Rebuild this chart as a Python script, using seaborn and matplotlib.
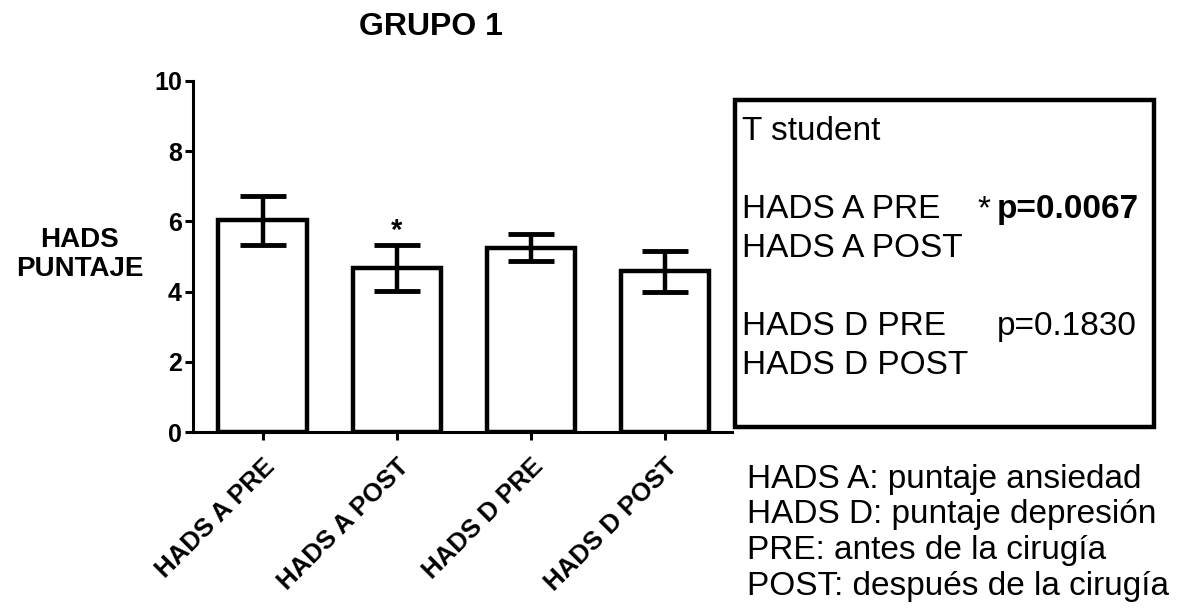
import numpy as np
import pandas as pd
import matplotlib
matplotlib.use("Agg")
import matplotlib.pyplot as plt
import seaborn as sns
from matplotlib.patches import Rectangle

# data
grupos = ["HADS A PRE", "HADS A POST", "HADS D PRE", "HADS D POST"]
medias = [6.03, 4.67, 5.25, 4.58]
errores = [0.70, 0.65, 0.39, 0.58]
yticks = [0, 2, 4, 6, 8, 10]

sns.set_theme(style="ticks")
plt.rcParams["font.family"] = ["Liberation Sans", "DejaVu Sans"]
plt.rcParams["text.color"] = "black"
plt.rcParams["xtick.color"] = "black"
plt.rcParams["ytick.color"] = "black"

df = pd.DataFrame({"grupo": grupos, "media": medias})

W, H = 1199, 615
fig = plt.figure(figsize=(W / 100, H / 100), dpi=100)
ax = fig.add_axes([193 / W, 1 - 432 / H, (732 - 193) / W, (432 - 81) / H])

sns.barplot(data=df, x="grupo", y="media", color="white", edgecolor="black",
            linewidth=3.2, width=0.66, errorbar=None, ax=ax)
ax.errorbar(np.arange(len(grupos)), medias, yerr=errores, fmt="none",
            ecolor="black", elinewidth=3.2, capsize=16.5, capthick=3.5, zorder=5)

# asterisk over HADS A POST
ax.text(1, medias[1] + errores[1] + 0.02, "*", ha="center", va="bottom",
        fontsize=21, fontweight="bold")

ax.set_xlim(-0.52, 3.50)
ax.set_ylim(0, 10)
ax.set_yticks(yticks)
ax.set_yticklabels([str(t) for t in yticks], fontsize=18, fontweight="bold")
ax.set_xticks(range(len(grupos)))
ax.set_xticklabels(grupos, rotation=45, ha="right", rotation_mode="anchor",
                   fontsize=18.5, fontweight="bold")
ax.set_xlabel("")
ax.set_ylabel("")
for s in ["top", "right"]:
    ax.spines[s].set_visible(False)
for s in ["left", "bottom"]:
    ax.spines[s].set_linewidth(2.2)
    ax.spines[s].set_color("black")
ax.tick_params(axis="both", width=2.2, length=6, color="black", pad=2)
ax.tick_params(axis="x", pad=10)

fig.text(431 / W, 1 - 35 / H, "GRUPO 1", ha="center", va="baseline",
         fontsize=23, fontweight="bold")
fig.text(80 / W, 1 - 255 / H, "HADS\nPUNTAJE", ha="center", va="center",
         fontsize=20, fontweight="bold", linespacing=1.15)

# stats box
box = Rectangle((735 / W, 1 - 427 / H), (1154 - 735) / W, (427 - 100) / H,
                transform=fig.transFigure, fill=False, edgecolor="black",
                linewidth=3.2)
fig.patches.append(box)

fs = 24
x0 = 742 / W
fig.text(x0, 1 - 140 / H, "T student", va="baseline", fontsize=fs)
fig.text(x0, 1 - 218 / H, "HADS A PRE", va="baseline", fontsize=fs)
fig.text(x0, 1 - 257 / H, "HADS A POST", va="baseline", fontsize=fs)
fig.text(x0, 1 - 335 / H, "HADS D PRE", va="baseline", fontsize=fs)
fig.text(x0, 1 - 374 / H, "HADS D POST", va="baseline", fontsize=fs)
fig.text(977 / W, 1 - 218 / H, "*", va="baseline", fontsize=fs)
fig.text(997 / W, 1 - 218 / H, "p=0.0067", va="baseline", fontsize=fs,
         fontweight="bold")
fig.text(997 / W, 1 - 335 / H, "p=0.1830", va="baseline", fontsize=fs)

notas = ["HADS A: puntaje ansiedad", "HADS D: puntaje depresión",
         "PRE: antes de la cirugía", "POST: después de la cirugía"]
for i, n in enumerate(notas):
    fig.text(747 / W, 1 - (488 + i * 35.5) / H, n, va="baseline", fontsize=fs)

fig.savefig("out.png", dpi=100)
